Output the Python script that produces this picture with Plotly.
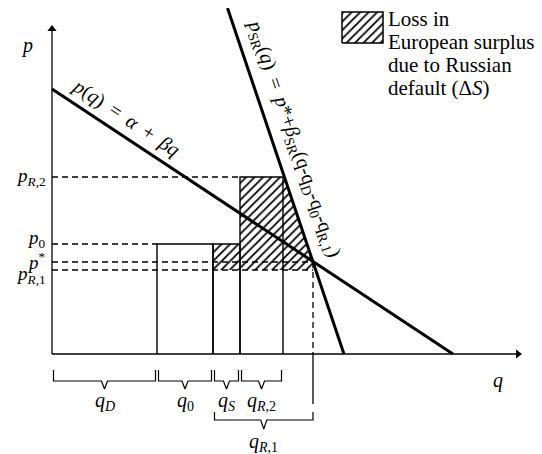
import plotly.graph_objects as go

# inverse demand p(q) = alpha + beta*q, slope of short-run supply
alpha = 265
beta = -0.661
beta_sr = -2.97

# quantity blocks: q_D, q_0, q_S, q_R,2, q_R,1
q_vals = [105, 56, 27, 43, 100]
q_labels = ['<i>q</i><sub><i>D</i></sub>', '<i>q</i><sub>0</sub>', '<i>q</i><sub><i>S</i></sub>',
            '<i>q</i><sub><i>R</i>,2</sub>', '<i>q</i><sub><i>R</i>,1</sub>']

# price levels: p_R,2, p_0, p*, p_R,1
p_vals = [177, 110, 92, 84]
p_labels = ['<i>p</i><sub><i>R</i>,2</sub>', '<i>p</i><sub>0</sub>', '<i>p</i><sup>*</sup>',
            '<i>p</i><sub><i>R</i>,1</sub>']

legend_lines = ['Loss in', 'European surplus', 'due to Russian', 'default (Δ<i>S</i>)']

# page body has an 8px margin, so the figure is 8px smaller and the ranges start 8px in
X_RANGE = [-44, 490]
Y_RANGE = [-100, 346]
SERIF = "Liberation Serif, 'Times New Roman', Times, DejaVu Serif, serif"
SP = ' \u2009'  # a bit wider than one space, like TeX around = and +

q_d, q_0, q_s, q_r2, q_r1 = q_vals
p_r2, p_0, p_star, p_r1 = p_vals
x0 = q_d
x1 = x0 + q_0
x2 = x1 + q_s
x3 = x2 + q_r2
q_star = x1 + q_r1


def q_sr(p):
    # quantity on the short-run supply line for price p
    return q_star + (p - p_star) / beta_sr


fig = go.Figure()

def add_line(xs, ys, width=1.3, dash='solid'):
    fig.add_trace(go.Scatter(x=xs, y=ys, mode='lines', hoverinfo='skip', showlegend=False,
                             line=dict(color='black', width=width, dash=dash)))

hatch = dict(shape='/', fgcolor='black', bgcolor='white', fgopacity=1, size=6, solidity=0.3)

# hatched loss area
fig.add_trace(go.Scatter(
    x=[x1, x2, x2, q_sr(p_r2), q_star, q_star, x1, x1],
    y=[p_0, p_0, p_r2, p_r2, p_star, p_r1, p_r1, p_0],
    mode='lines', fill='toself', fillcolor='white', fillpattern=hatch,
    line=dict(width=0, color='rgba(0,0,0,0)'), hoverinfo='skip', showlegend=False))

# blocks
rx, ry = [], []
for a, b, h in [(x0, x1, p_0), (x1, x2, p_0), (x2, x3, p_r2)]:
    rx += [a, a, b, b, None]
    ry += [0, h, h, 0, None]
add_line(rx, ry, width=1.4)

# dashed guides
dx = [0, x2, None, 0, x0, None, 0, q_star, None, 0, q_star, None, q_star, q_star]
dy = [p_r2, p_r2, None, p_0, p_0, None, p_star, p_star, None, p_r1, p_r1, None, p_star, 0]
add_line(dx, dy, width=1.3, dash='6px,4px')
add_line([q_star, q_star], [0, -50], width=1.3)

# axes
add_line([0, 466, None, 0, 0], [0, 0, None, 0, 325], width=1.3)
fig.add_trace(go.Scatter(x=[466, 0], y=[0, 325], mode='markers', hoverinfo='skip',
                         showlegend=False,
                         marker=dict(symbol=['triangle-right', 'triangle-up'], size=8,
                                     color='black')))

# demand and short-run supply
add_line([0, -alpha / beta], [alpha, 0], width=3)
add_line([q_sr(Y_RANGE[1]), q_sr(0)], [Y_RANGE[1], 0], width=3)

# braces
def brace(a, b, top, mid, apex):
    m = (a + b) / 2
    return [a, a, m - 3, m, m + 3, b, b, None], [top, mid, mid, apex, mid, mid, top, None]

spans = [(0, x0), (x0, x1), (x1, x2), (x2, x3)]
bx, by = [], []
for a, b in spans:
    xs, ys = brace(a + 1.5, b - 1.5, -16, -27, -35)
    bx += xs
    by += ys
xs, ys = brace(x1 + 1.5, q_star, -58, -66, -75)
bx += xs
by += ys
add_line(bx, by, width=1.2)

# legend swatch
fig.add_trace(go.Scatter(
    x=[290, 331, 331, 290, 290], y=[311, 311, 342, 342, 311],
    mode='lines', fill='toself', fillcolor='white', fillpattern=hatch,
    line=dict(color='black', width=1.5), hoverinfo='skip', showlegend=False))

ann = []
math_font = dict(family=SERIF, size=20, color='black')
ann.append(dict(x=-25, y=309, text='<i>p</i>', showarrow=False, font=math_font))
ann.append(dict(x=446, y=-26, text='<i>q</i>', showarrow=False, font=math_font))

# price labels
shifts = [0, 5, 1, -5]
for p, lab, s in zip(p_vals, p_labels, shifts):
    ann.append(dict(x=-4, y=p, text=lab, showarrow=False, xanchor='right', yshift=s,
                    font=dict(family=SERIF, size=19, color='black')))

# quantity labels
for (a, b), lab in zip(spans, q_labels[:4]):
    ann.append(dict(x=(a + b) / 2, y=-47, text=lab, showarrow=False, font=math_font))
ann.append(dict(x=(x1 + q_star) / 2, y=-88, text=q_labels[4], showarrow=False, font=math_font))

# line labels
ann.append(dict(x=74, y=237, showarrow=False, textangle=33.5, font=math_font,
                text=f'<i>p</i>(<i>q</i>){SP}={SP}<i>α</i>{SP}+{SP}<i>βq</i>'))
ann.append(dict(x=242, y=216, showarrow=False, textangle=71,
                font=dict(family=SERIF, size=20, color='black'),
                text=f'<i>p</i><sub>SR</sub>(<i>q</i>){SP}={SP}<i>p</i>*+<i>β</i><sub>SR</sub>'
                     '(q-q<sub>D</sub>-q<sub>0</sub>-q<sub>R,1</sub>)'))

for i, line in enumerate(legend_lines):
    ann.append(dict(x=334, y=335 - 23 * i, text=line, showarrow=False, xanchor='left',
                    font=dict(family=SERIF, size=21, color='black')))

fig.update_layout(
    width=534, height=446,
    margin=dict(l=0, r=0, t=0, b=0),
    paper_bgcolor='white', plot_bgcolor='white',
    xaxis=dict(range=X_RANGE, visible=False, fixedrange=True),
    yaxis=dict(range=Y_RANGE, visible=False, fixedrange=True),
    annotations=ann,
)

fig.write_html("out.html")
